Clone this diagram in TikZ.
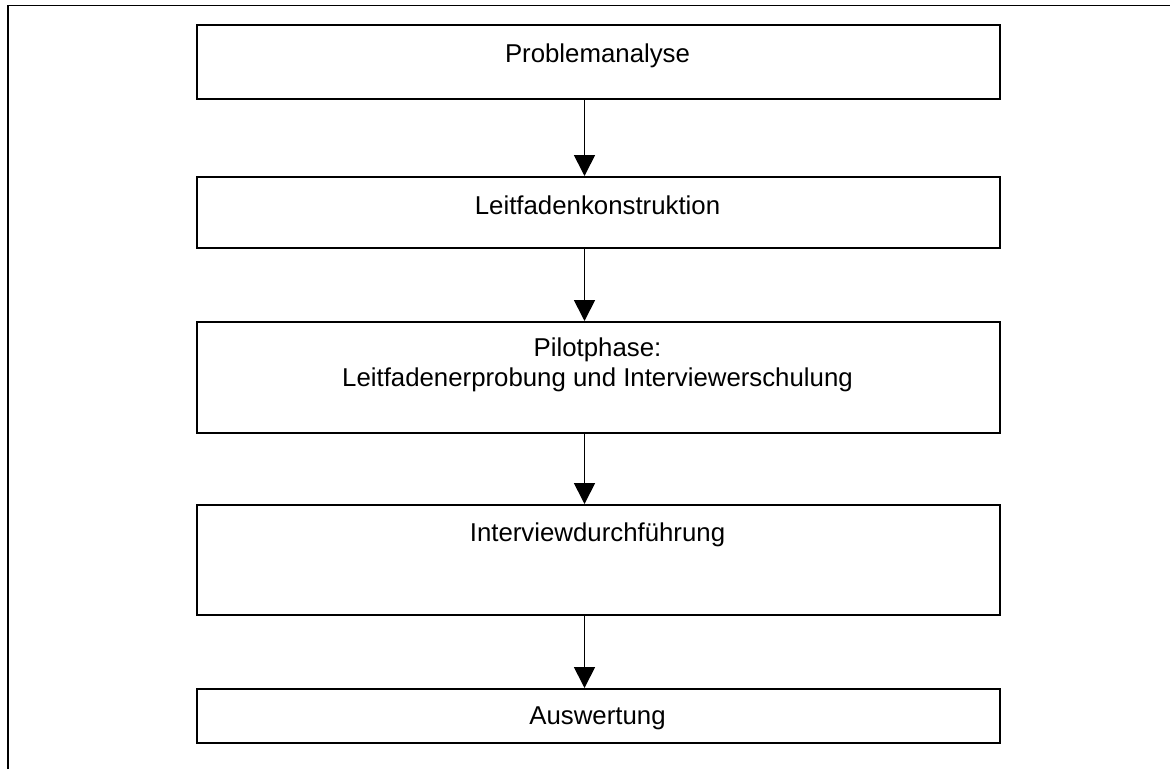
\documentclass[tikz,border=0pt]{standalone}
\usepackage{fontspec}
\setmainfont{Liberation Sans}
\usetikzlibrary{arrows.meta}
\begin{document}
\begin{tikzpicture}[x=1pt,y=-1pt,
  stepbox/.style={draw=black,line width=1.9pt,rectangle,inner sep=0pt,
    minimum width=803pt,anchor=north west},
  steptext/.style={inner sep=0pt,anchor=base,font=\fontsize{25.8}{30}\selectfont,align=center},
  flow/.style={line width=1.7pt,-{Triangle[width=21pt,length=21pt]}}]
  \useasboundingbox (0,0) rectangle (1170,769);
  % open outer frame: left edge and top edge only
  \draw[line width=1.9pt] (8,769) -- (8,5.5) -- (1170,5.5);

  % process steps
  \node[stepbox,minimum height=74pt]  (b1) at (196,24)  {};
  \node[stepbox,minimum height=71pt]  (b2) at (196,176) {};
  \node[stepbox,minimum height=111pt] (b3) at (196,321) {};
  \node[stepbox,minimum height=110pt] (b4) at (196,504) {};
  \node[stepbox,minimum height=54pt]  (b5) at (196,688) {};

  \node[steptext] (t1) at (597.5,62)  {Problemanalyse};
  \node[steptext] (t2) at (597.5,214) {Leitfadenkonstruktion};
  \node[steptext] (t3a) at (597.5,356) {Pilotphase:};
  \node[steptext] (t3b) at (597.5,386) {Leitfadenerprobung und Interviewerschulung};
  \node[steptext] (t4) at (597.5,541) {Interviewdurchführung};
  \node[steptext] (t5) at (597.5,724) {Auswertung};

  % arrows run slightly left of the box centres
  \coordinate (ax) at (584.5,0);
  \draw[flow] (b1.south -| ax) -- (b2.north -| ax);
  \draw[flow] (b2.south -| ax) -- (b3.north -| ax);
  \draw[flow] (b3.south -| ax) -- (b4.north -| ax);
  \draw[flow] (b4.south -| ax) -- (b5.north -| ax);
\end{tikzpicture}
\end{document}
